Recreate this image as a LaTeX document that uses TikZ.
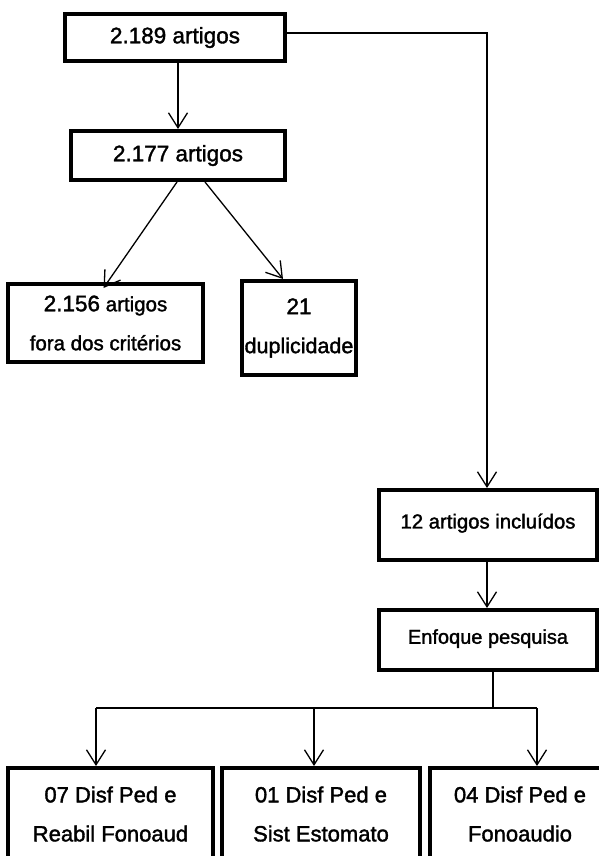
\documentclass[tikz,border=0pt]{standalone}
\usepackage{fontspec}
\setmainfont{Liberation Sans}[FakeBold=1.6]
\usepackage{tikz}
\usetikzlibrary{arrows.meta}
\newcommand{\figfont}[1]{\fontsize{#1}{39}\selectfont}
\tikzset{fbox/.style={draw, line width=4pt, align=center, inner sep=0pt},
  farr/.style={line width=1.3pt, -{Straight Barb[length=15pt, width=19pt]}},
  fline/.style={line width=1.3pt}}

\begin{document}
\begin{tikzpicture}[x=1pt, y=-1pt]
  \useasboundingbox (0,0) rectangle (599,856);
  \clip (0,0) rectangle (599,856);
  % search and screening
  \node[fbox, minimum width=220pt, minimum height=47pt, font=\figfont{22.5}] (total) at (175,37.5) {2.189 artigos};
  \node[fbox, minimum width=214pt, minimum height=49pt, font=\figfont{22.5}] (screen) at (178,155.5) {2.177 artigos};
  \node[fbox, minimum width=195pt, minimum height=78pt, font=\figfont{20.5}] (excl) at (105.5,323) {{\figfont{22.5}2.156} artigos\\fora dos critérios};
  \node[fbox, minimum width=114pt, minimum height=94pt, font=\figfont{21.5}] (dupl) at (299,328) {{\figfont{22.5}21}\\duplicidade};
  % included
  \node[fbox, minimum width=218pt, minimum height=70pt, font=\figfont{20.3}, text depth=8pt] (incl) at (488,525) {12 artigos incluídos};
  \node[fbox, minimum width=218pt, minimum height=60pt, font=\figfont{20}, text depth=7pt] (focus) at (488,640) {Enfoque pesquisa};
  % categories
  \node[fbox, minimum width=205pt, minimum height=92pt, font=\figfont{22}] (reab) at (110.5,814) {07 Disf Ped e\\Reabil Fonoaud};
  \node[fbox, minimum width=198pt, minimum height=92pt, font=\figfont{22}] (esto) at (321,814) {01 Disf Ped e\\Sist Estomato};
  \node[fbox, minimum width=180pt, minimum height=92pt, font=\figfont{22}] (fono) at (520,814) {04 Disf Ped e\\Fonoaudio};

  \draw[farr] ([xshift=3pt]total.south) -- ([xshift=3pt]total.south |- screen.north);
  \draw[farr] ([xshift=-1pt]screen.south) -- ([xshift=-2pt, yshift=-6pt]excl.north);
  \draw[farr] ([xshift=27pt]screen.south) -- ([xshift=-16pt]dupl.north);
  \draw[farr] ([yshift=4.5pt]total.east) -| ([xshift=-1pt]incl.north);
  \draw[farr] ([xshift=-1pt]incl.south) -- ([xshift=-1pt]focus.north);

  \coordinate (split) at (493,708);
  \draw[fline] (focus.south -| split) -- (split);
  \draw[fline] ([xshift=-14.5pt]reab.north |- split) -- ([xshift=17pt]fono.north |- split);
  \foreach \n/\dx in {reab/-14.5, esto/-7, fono/17}
    \draw[farr] ([xshift=\dx pt]\n.north |- split) -- ([xshift=\dx pt]\n.north);
\end{tikzpicture}
\end{document}
